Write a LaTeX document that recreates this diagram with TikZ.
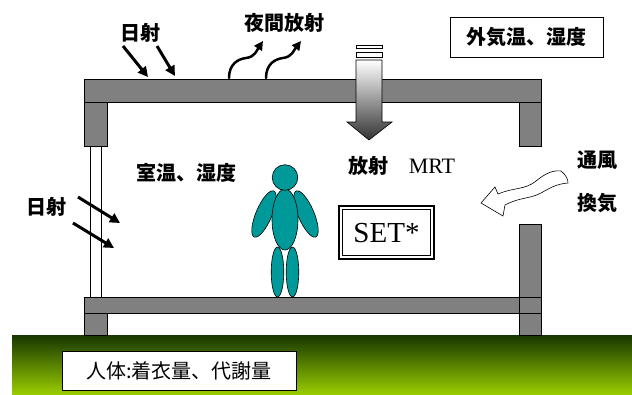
\documentclass[tikz,border=0pt]{standalone}
\usepackage{fontspec}
\newfontfamily\jpfont{Noto Sans CJK JP}
\newfontfamily\romanfont{Liberation Serif}
\usetikzlibrary{arrows.meta}

\definecolor{slabgray}{RGB}{128,128,128}
\definecolor{bodyteal}{RGB}{0,153,153}
\definecolor{soildark}{RGB}{22,54,0}
\definecolor{soillight}{RGB}{153,204,0}

\tikzset{
	slab/.style={draw=black, fill=slabgray, line width=0.8pt},
	jptext/.style={inner sep=0pt, font=\jpfont\bfseries\fontsize{20}{20}\selectfont},
	romantext/.style={inner sep=0pt, font=\romanfont\fontsize{22}{22}\selectfont},
	sunray/.style={line width=3pt, -{Triangle[length=10pt,width=10pt]}},
	skyray/.style={line width=2.5pt, line cap=round, -{Triangle[length=9pt,width=9pt]}},
	body/.style={draw=black, fill=bodyteal, line width=0.6pt},
}

\begin{document}
\begin{tikzpicture}[x=1pt, y=-1pt]
			%%%%% START %%%%%
			\useasboundingbox (0, 0) rectangle (632, 394);
			
			% ground
			\shade[top color=soildark, bottom color=soillight] (12, 335) rectangle (632, 394);
			
			% columns, roof and floor
			\draw[slab] (84, 102) rectangle (107, 146);
			\draw[slab] (519, 102) rectangle (541, 146);
			\draw[slab] (84, 313) rectangle (107, 335);
			\draw[slab] (519, 224) rectangle (541, 335);
			\draw[slab] (84, 79) rectangle (541, 102);
			\draw[slab] (84, 297) rectangle (541, 313);
			\draw[line width=0.8pt] (519, 297) -- (519, 313);
			
			% window
			\draw[line width=0.8pt, fill=white] (90, 146) rectangle (101, 297);
			
			% solar radiation on the roof and through the window
			\node[jptext] (sunroof) at (140, 33) {日射};
			\draw[sunray] (123, 46) -- (148, 77);
			\draw[sunray] (157, 46) -- (175, 76);
			\node[jptext] (sunwin) at (46, 207) {日射};
			\draw[sunray] (78, 197) -- (120, 223);
			\draw[sunray] (73, 223) -- (114, 248);
			
			% night sky radiation
			\node[jptext] (nightrad) at (284, 23) {夜間放射};
			\draw[skyray] (229, 78) .. controls (229, 64) and (238, 59) .. (246, 58) .. controls (255, 57) and (257, 50) .. (263, 41);
			\draw[skyray] (266, 78) .. controls (266, 64) and (275, 59) .. (283, 58) .. controls (292, 57) and (294, 50) .. (301, 41);
			
			% radiation arrow through the roof
			\draw[line width=0.6pt, fill=white] (356, 45) rectangle (382, 48);
			\draw[line width=0.6pt, fill=white] (356, 52) rectangle (382, 57);
			\shadedraw[top color=white, bottom color=black!80, draw=black, line width=0.6pt]
				(356, 60) -- (382, 60) -- (382, 122) -- (392, 122) -- (369, 140) -- (347, 122) -- (356, 122) -- cycle;
			\node[jptext] (radiation) at (368, 166) {放射};
			\node[romantext] (mrt) at (432, 166) {MRT};
			
			% outdoor and indoor air
			\node[draw, fill=white, line width=1pt, minimum width=153pt, minimum height=40pt, jptext] (outdoor) at (526.5, 37) {外気温、湿度};
			\node[jptext] (indoor) at (186, 173) {室温、湿度};
			
			% ventilation
			\node[jptext] (wind) at (597, 160) {通風};
			\node[jptext] (vent) at (597, 203) {換気};
			\draw[line width=0.6pt, fill=white] (481, 203) -- (495, 187) -- (498, 194)
				.. controls (515, 187) and (525, 190) .. (536, 181)
				.. controls (546, 173) and (553, 170) .. (561, 171)
				.. controls (566, 175) and (568, 179) .. (568, 183)
				.. controls (556, 184) and (550, 188) .. (541, 193)
				.. controls (530, 199) and (520, 197) .. (505, 205) -- (503, 216) -- cycle;
			
			% SET* panel
			\draw[line width=2pt, fill=white] (339, 206) rectangle (434, 259);
			\draw[line width=0.8pt] (342.5, 209.5) rectangle (430.5, 255.5);
			\node[romantext, font=\romanfont\fontsize{29}{29}\selectfont] (set) at (386.5, 233) {SET*};
			
			% person
			\draw[body, rotate around={-23:(264, 214)}] (264, 214) ellipse (8 and 25);
			\draw[body, rotate around={23:(306, 214)}] (306, 214) ellipse (8 and 25);
			\draw[body] (277.5, 272) ellipse (6.3 and 25);
			\draw[body] (292.5, 272) ellipse (6.3 and 25);
			\draw[body] (285, 219.5) ellipse (13 and 30.5);
			\draw[body] (285, 177.5) circle (12.8);
			
			% clothing and metabolism
			\node[draw, fill=white, line width=1pt, minimum width=234pt, minimum height=39pt, inner sep=0pt,
				font=\jpfont\fontsize{20}{20}\selectfont] (human) at (179, 370.5) {人体:着衣量、代謝量};
			
			%%%%% END %%%%%
\end{tikzpicture}
\end{document}
